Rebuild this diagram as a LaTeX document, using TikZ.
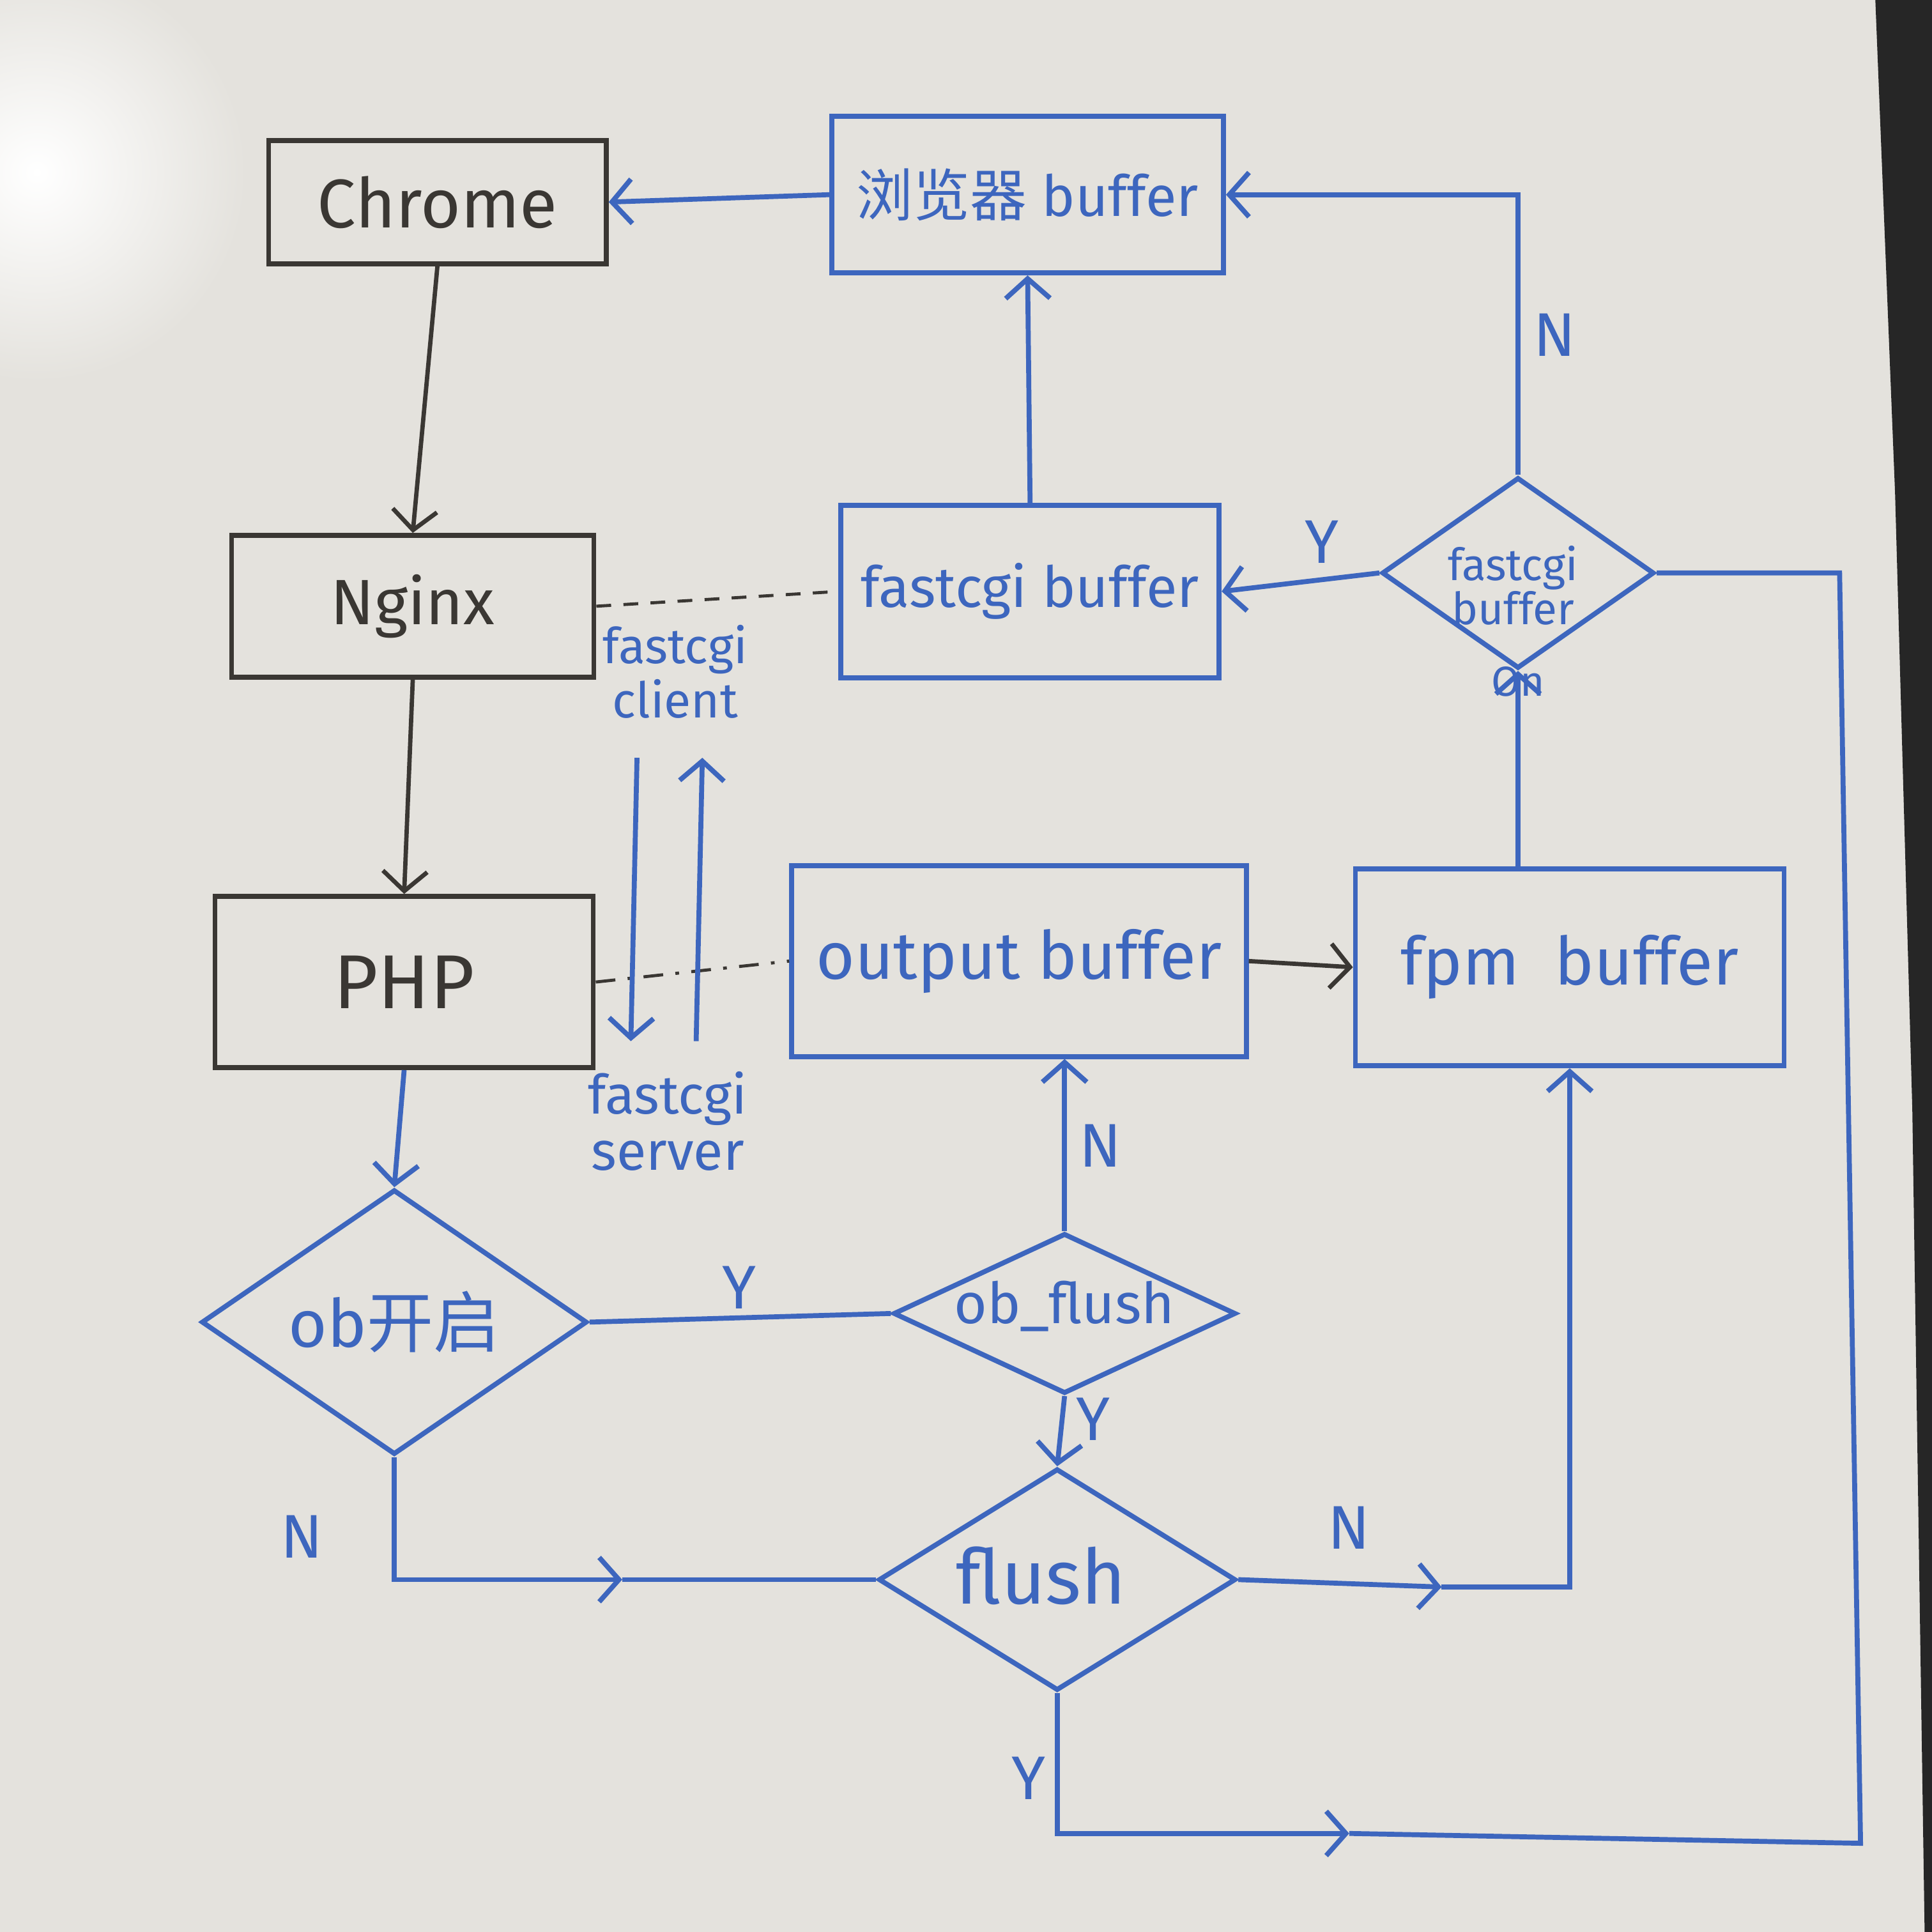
\documentclass[tikz,border=0pt]{standalone}
\usepackage{fontspec}
\setmainfont{Fira Sans}
\newfontfamily\cjk{Noto Sans CJK SC}
\usetikzlibrary{shapes.geometric,arrows.meta}
\definecolor{ink}{HTML}{3D66BE}
\definecolor{pencil}{HTML}{3A3733}
\definecolor{board}{HTML}{E4E2DD}
\begin{document}
\begin{tikzpicture}[x=1pt,y=-1pt,
  bluebox/.style={draw=ink,line width=4pt,rectangle,inner sep=0pt,text=ink},
  graybox/.style={draw=pencil,line width=4pt,rectangle,inner sep=0pt,text=pencil},
  dia/.style={draw=ink,line width=4pt,diamond,inner sep=0pt},
  txt/.style={text=ink,inner sep=0pt,align=center},
  lab/.style={text=ink,inner sep=0pt,font=\fontsize{50}{56}\selectfont},
  bl/.style={draw=ink,line width=4pt},
  gl/.style={draw=pencil,line width=3.5pt},
  arr/.style={-{Straight Barb[length=16pt,width=36pt]}}]
\fill[board] (0,0) rectangle (1568,1568);
\useasboundingbox (0,0) rectangle (1568,1568);
\shade[inner color=white,outer color=board] (30,140) circle (170);
\fill[black!85] (1522,0) -- (1568,0) -- (1568,1568) -- (1562,1568) -- (1552,900) -- (1538,400) -- cycle;

% boxes
\node[graybox,minimum width=274,minimum height=100,font=\fontsize{56}{60}\selectfont] (chrome) at (355,164) {Chrome};
\node[bluebox,minimum width=318,minimum height=127,font=\fontsize{46}{52}\selectfont] (brow) at (834,158) {{\cjk 浏览器} buffer};
\node[graybox,minimum width=294,minimum height=115,font=\fontsize{52}{56}\selectfont] (nginx) at (335,492) {Nginx};
\node[bluebox,minimum width=307,minimum height=140,font=\fontsize{46}{52}\selectfont] (fcgi) at (836,480) {fastcgi buffer};
\node[graybox,minimum width=307,minimum height=139,font=\fontsize{62}{66}\selectfont] (php) at (328,797) {PHP};
\node[bluebox,minimum width=369,minimum height=155,font=\fontsize{54}{60}\selectfont] (outb) at (827,780) {output buffer};
\node[bluebox,minimum width=348,minimum height=160,font=\fontsize{54}{60}\selectfont] (fpm) at (1274,785) {fpm\ \ buffer};

% diamonds
\node[dia,minimum width=221,minimum height=155] (fdia) at (1232,465) {};
\node[txt,font=\fontsize{36}{34}\selectfont] (fdiat) at (1228,475) {fastcgi\\buffer};
\node[dia,minimum width=313,minimum height=215] (obd) at (320,1073) {};
\node[txt,font=\fontsize{54}{60}\selectfont] (obdt) at (320,1073) {ob{\cjk 开启}};
\node[dia,minimum width=278,minimum height=130] (obf) at (864,1066) {};
\node[txt,font=\fontsize{46}{52}\selectfont] (obft) at (864,1060) {ob\_flush};
\node[dia,minimum width=290,minimum height=180] (fl) at (858,1282) {};
\node[txt,font=\fontsize{62}{66}\selectfont] (flt) at (845,1279) {flush};

% side texts
\node[txt,font=\fontsize{40}{44}\selectfont] (fcli) at (548,545) {fastcgi\\client};
\node[txt,font=\fontsize{44}{46}\selectfont] (fsrv) at (542,910) {fastcgi\\server};
\node[txt,font=\fontsize{34}{36}\selectfont] (on) at (1232,553) {On};

% coordinates
\coordinate (d1) at (517,615);
\coordinate (d2) at (512,845);
\coordinate (u1) at (565,845);
\coordinate (u2) at (570,615);
\coordinate (obm) at (505,1282);
\coordinate (flm) at (1170,1288);
\coordinate (botm) at (1095,1488);
\coordinate (br) at (1510,1496);
\coordinate (tr) at (1493,465);

% gray connectors
\draw[gl,arr] (chrome.south) -- (nginx.north);
\draw[gl,arr] (nginx.south) -- (php.north);
\draw[gl,arr] (outb.east) -- (fpm.west);

% dashed links
\draw[pencil,line width=2.5pt,dash pattern=on 12pt off 10pt] (nginx.east) -- (fcgi.west);
\draw[pencil,line width=2.5pt,dash pattern=on 16pt off 10pt on 3pt off 10pt] (php.east) -- (outb.west);

% blue connectors
\draw[bl,arr] (brow.west) -- (chrome.east);
\draw[bl,arr] (fcgi.north) -- (brow.south);
\draw[bl,arr] (fdia.west) -- (fcgi.east);
\draw[bl,arr] (fdia.north) |- (brow.east);
\draw[bl,arr] (fpm.north -| fdia.south) -- (fdia.south);
\draw[bl,arr] (d1) -- (d2);
\draw[bl,arr] (u1) -- (u2);
\draw[bl,arr] (php.south) -- (obd.north);
\draw[bl] (obd.east) -- (obf.west);
\draw[bl,arr] (obf.north) -- (outb.south -| obf.north);
\draw[bl,arr] (obf.south) -- (fl.north);
\draw[bl,arr] (obd.south) |- (obm);
\draw[bl] (obm) -- (fl.west);
\draw[bl,arr] (fl.east) -- (flm);
\draw[bl,arr] (flm) -| (fpm.south);
\draw[bl,arr] (fl.south) |- (botm);
\draw[bl] (botm) -- (br) -- (tr) -- (fdia.east);

% labels
\node[lab] (lN1) at (1262,272) {N};
\node[lab] (lY1) at (1073,440) {Y};
\node[lab] (lY2) at (600,1045) {Y};
\node[lab] (lN2) at (893,930) {N};
\node[lab] (lY3) at (887,1152) {Y};
\node[lab] (lN3) at (245,1247) {N};
\node[lab] (lN4) at (1095,1240) {N};
\node[lab] (lY4) at (835,1443) {Y};
\end{tikzpicture}
\end{document}
